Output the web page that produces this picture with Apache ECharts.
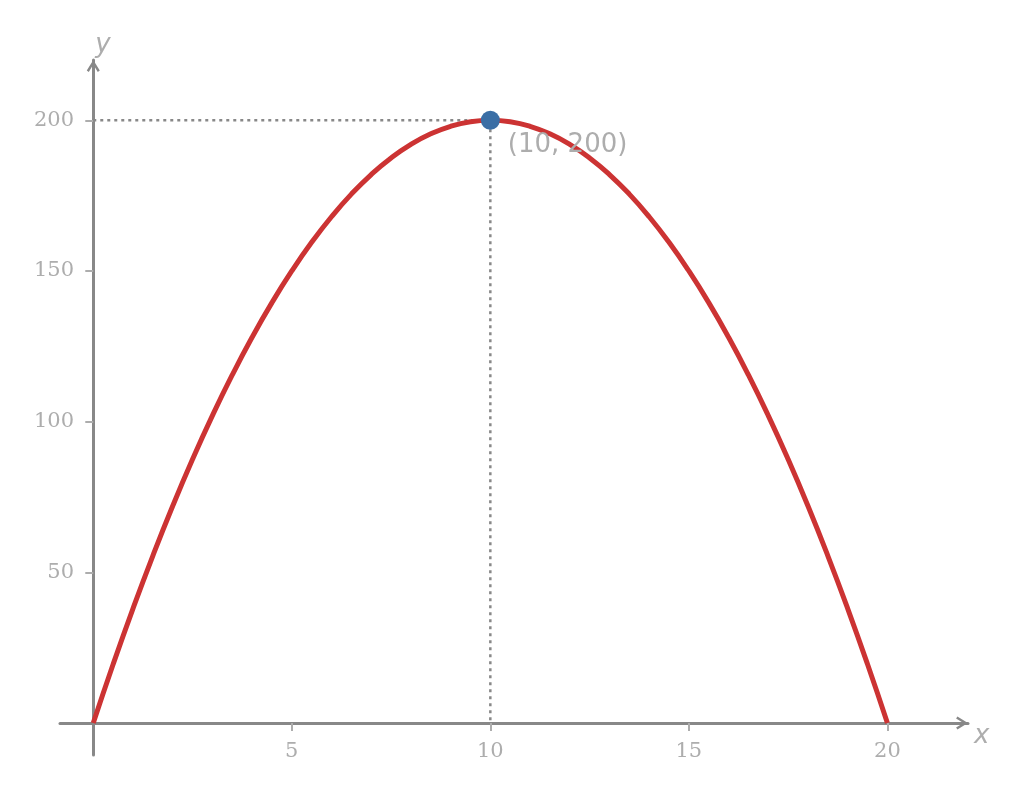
<!DOCTYPE html>
<html lang="en">
<head>
    <meta charset="UTF-8">
    <title>Parabola</title>
    <script src="https://cdn.jsdelivr.net/npm/echarts@6/dist/echarts.min.js" type="text/javascript"></script>
    <style>
        html, body { margin: 0; padding: 0; background: #fff; }
    </style>
</head>
<body>
<div id="main" style="width: 1024px;height:795px;"></div>
<script type="text/javascript">
    // points
    var xs = [0, 0.5, 1, 1.5, 2, 2.5, 3, 3.5, 4, 4.5, 5, 5.5, 6, 6.5, 7, 7.5, 8, 8.5, 9, 9.5, 10,
              10.5, 11, 11.5, 12, 12.5, 13, 13.5, 14, 14.5, 15, 15.5, 16, 16.5, 17, 17.5, 18, 18.5, 19, 19.5, 20];
    var ys = [0, 19.5, 38, 55.5, 72, 87.5, 102, 115.5, 128, 139.5, 150, 159.5, 168, 175.5, 182, 187.5, 192, 195.5, 198, 199.5, 200,
              199.5, 198, 195.5, 192, 187.5, 182, 175.5, 168, 159.5, 150, 139.5, 128, 115.5, 102, 87.5, 72, 55.5, 38, 19.5, 0];
    var peak = [10, 200];
    var xTicks = [5, 10, 15, 20];
    var yTicks = [50, 100, 150, 200];

    var curve = [];
    for (var i = 0; i < xs.length; i++) {
        curve.push([xs[i], ys[i]]);
    }
    // dotted guide lines to the peak
    var guide = [[0, peak[1]], [peak[0], peak[1]], [peak[0], 0]];

    var axisGrey = '#888888';
    var textGrey = '#adadad';
    // open arrow head at the end of each axis
    var chevron = 'path://M6.5,0 L13,10.5 L11,11.8 L6.5,4.5 L2,11.8 L0,10.5 Z';

    var myChart = echarts.init(document.getElementById('main'));
    myChart.setOption({
        animation: false,
        grid: { left: 60, right: 56, top: 60, bottom: 40, outerBoundsMode: 'none' },
        xAxis: {
            type: 'value',
            min: -0.838,
            max: 22.03,
            name: 'x',
            nameLocation: 'end',
            nameGap: 6,
            nameTextStyle: {
                fontFamily: 'DejaVu Sans', fontStyle: 'italic', fontSize: 26,
                color: textGrey, align: 'left', verticalAlign: 'top'
            },
            splitLine: { show: false },
            axisLine: {
                onZero: true,
                symbol: ['none', chevron],
                symbolSize: [13, 12],
                symbolOffset: [0, -6],
                lineStyle: { color: axisGrey, width: 3 }
            },
            axisTick: { customValues: xTicks, length: 8, lineStyle: { color: textGrey, width: 2 } },
            // labels are laid out from the grid edge, so pull them back up to the zero line
            axisLabel: {
                customValues: xTicks, margin: -14,
                fontFamily: 'DejaVu Serif', fontSize: 21, color: textGrey
            }
        },
        yAxis: {
            type: 'value',
            min: -10.6,
            max: 220,
            name: 'y',
            nameLocation: 'end',
            nameGap: 2,
            nameTextStyle: {
                fontFamily: 'DejaVu Sans', fontStyle: 'italic', fontSize: 26,
                color: textGrey, align: 'left', verticalAlign: 'bottom', padding: [0, 0, 0, 2]
            },
            splitLine: { show: false },
            axisLine: {
                onZero: true,
                symbol: ['none', chevron],
                symbolSize: [13, 12],
                symbolOffset: [0, -6],
                lineStyle: { color: axisGrey, width: 3 }
            },
            axisTick: { customValues: yTicks, length: 8, lineStyle: { color: textGrey, width: 2 } },
            axisLabel: {
                customValues: yTicks, margin: -14, padding: [4, 0, 0, 0],
                fontFamily: 'DejaVu Serif', fontSize: 21, color: textGrey
            }
        },
        series: [
            {
                type: 'line',
                data: guide,
                symbol: 'none',
                lineStyle: { color: axisGrey, width: 2.5, type: [3, 4] },
                z: 1
            },
            {
                type: 'line',
                data: curve,
                smooth: true,
                symbol: 'none',
                lineStyle: { color: '#cc3333', width: 5 },
                z: 2
            },
            {
                type: 'scatter',
                data: [peak],
                symbolSize: 19,
                itemStyle: { color: '#3a6ea5', opacity: 1 },
                label: {
                    show: true,
                    position: [27, 21],
                    formatter: '(10, 200)',
                    fontFamily: 'DejaVu Sans',
                    fontSize: 26,
                    color: textGrey
                },
                z: 3
            }
        ]
    });
</script>
</body>
</html>
